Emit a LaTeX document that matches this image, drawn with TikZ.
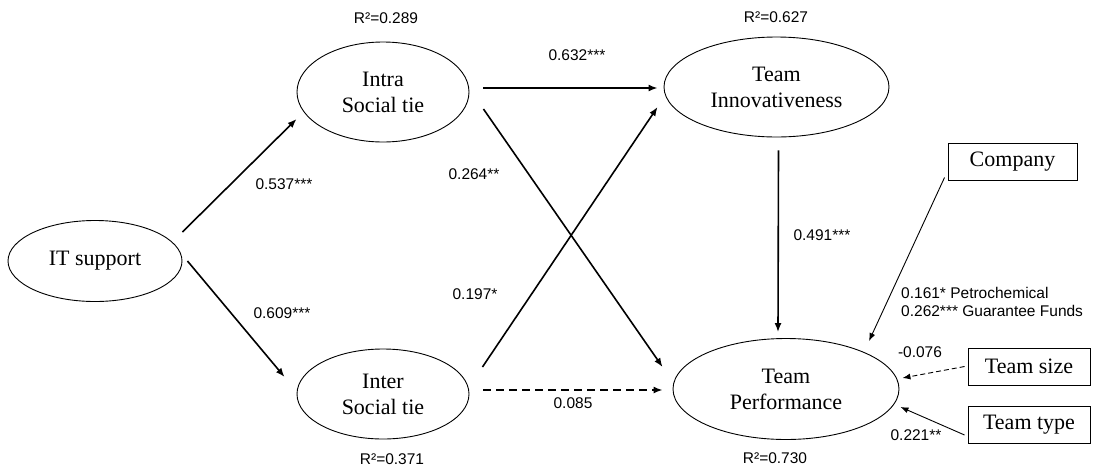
\documentclass[tikz,border=0pt]{standalone}
\usepackage{fontspec}
\setmainfont{Liberation Serif}
\newfontfamily\lblfont{Liberation Sans}
\usetikzlibrary{arrows.meta,shapes.geometric}
\begin{document}
\begin{tikzpicture}[x=1pt,y=-1pt,
  lat/.style={draw, ellipse, line width=0.9pt, inner sep=0pt, align=center,
    font=\fontsize{22pt}{26pt}\selectfont},
  ctrl/.style={draw, rectangle, line width=0.9pt, inner sep=0pt,
    font=\fontsize{22pt}{26pt}\selectfont},
  lbl/.style={inner sep=0pt, font=\lblfont\fontsize{15.5pt}{18pt}\selectfont},
  mainarrow/.style={line width=1.6pt, -{Latex[length=9pt,width=7pt]}},
  thinarrow/.style={line width=0.9pt, -{Latex[length=8pt,width=6pt]}},
  maindash/.style={dash pattern=on 8pt off 5pt},
  thindash/.style={dash pattern=on 5pt off 3pt}
]
\useasboundingbox (0,0) rectangle (1093,469);

% latent variables
\node[lat, minimum width=174pt, minimum height=81pt] (it) at (95,261) {IT support};
\node[lat, minimum width=172pt, minimum height=100pt] (intra) at (383,92) {Intra\\Social tie};
\node[lat, minimum width=172pt, minimum height=90pt] (inter) at (383,394) {Inter\\Social tie};
\node[lat, minimum width=225pt, minimum height=100pt] (ti) at (776.5,87) {Team\\Innovativeness};
\node[lat, minimum width=226pt, minimum height=101pt] (tp) at (786,389) {Team\\Performance};

% control variables
\node[ctrl, minimum width=129pt, minimum height=37pt] (company) at (1012.5,161.5) {Company};
\node[ctrl, minimum width=122pt, minimum height=37pt] (tsize) at (1029,366.5) {Team size};
\node[ctrl, minimum width=122pt, minimum height=37pt] (ttype) at (1029,424.5) {Team type};

% paths
\draw[mainarrow] ([shift={(0,-29)}]it.east) -- ([shift={(0,27)}]intra.west);
\draw[mainarrow] ([shift={(5,0)}]it.east) -- ([shift={(-12,-17)}]inter.west);
\draw[mainarrow] ([shift={(14,-4)}]intra.east) -- ([shift={(-6,1)}]ti.west);
\draw[mainarrow] ([shift={(14,17)}]intra.east) -- ([shift={(-10,-22)}]tp.west);
\draw[mainarrow] ([shift={(13,-27)}]inter.east) -- ([shift={(-6,20)}]ti.west);
\draw[mainarrow, maindash] ([shift={(14,-4)}]inter.east) -- ([shift={(-10,1)}]tp.west);
\draw[mainarrow] ([shift={(2,13)}]ti.south) -- ([shift={(-8,-6)}]tp.north);
\draw[thinarrow] ([shift={(-3,-3)}]company.south west) -- ([shift={(83,3)}]tp.north);
\draw[thinarrow, thindash] ([shift={(-3,0)}]tsize.west) -- ([shift={(3,-11)}]tp.east);
\draw[thinarrow] ([shift={(-3,10.5)}]ttype.west) -- ([shift={(1,18)}]tp.east);

% labels
\node[lbl] (r1) at (386,18) {R²=0.289};
\node[lbl] (r2) at (776,17) {R²=0.627};
\node[lbl] (r3) at (392,459) {R²=0.371};
\node[lbl] (r4) at (775,458) {R²=0.730};
\node[lbl] (c1) at (284,184) {0.537***};
\node[lbl] (c2) at (282,313) {0.609***};
\node[lbl] (c3) at (474,174) {0.264**};
\node[lbl] (c4) at (475,294) {0.197*};
\node[lbl] (c5) at (577,55) {0.632***};
\node[lbl] (c6) at (573,403) {0.085};
\node[lbl] (c7) at (822,235) {0.491***};
\node[lbl, anchor=west, align=left] (c8) at (901,302) {0.161* Petrochemical\\0.262*** Guarantee Funds};
\node[lbl] (c9) at (920,352) {-0.076};
\node[lbl] (c10) at (916,435) {0.221**};
\end{tikzpicture}
\end{document}
